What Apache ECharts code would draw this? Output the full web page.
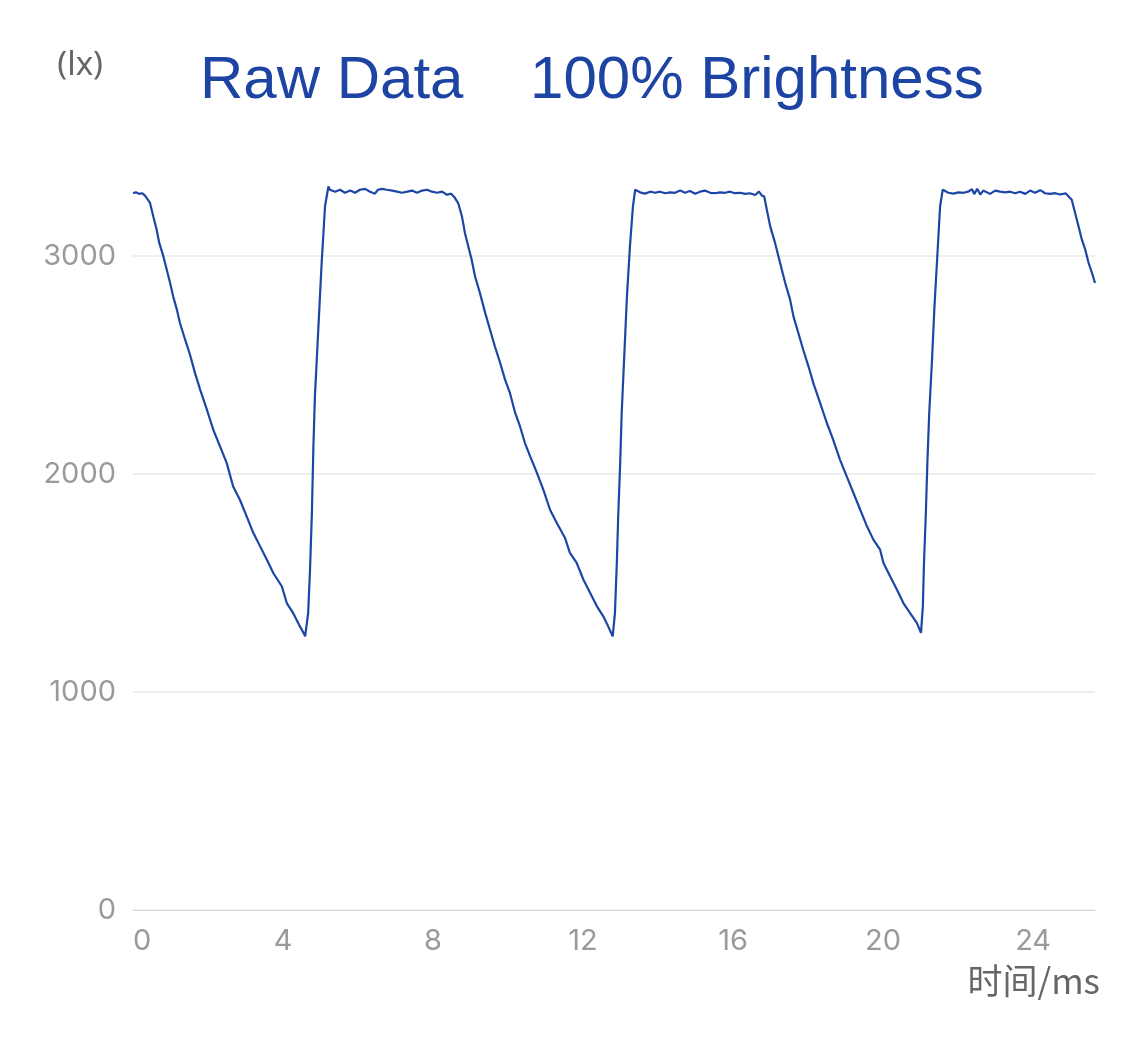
<!DOCTYPE html>
<html>
<head>
<meta charset="utf-8">
<script src="https://cdn.jsdelivr.net/npm/echarts@6/dist/echarts.min.js"></script>
<style>
html,body{margin:0;padding:0;background:#fff;}
#chart{width:1125px;height:1040px;}
</style>
</head>
<body>
<div id="chart"></div>
<script>
// Time (ms) of each sample
const timeMs = [
  0, 0.08, 0.16, 0.24, 0.32, 0.45, 0.54, 0.63, 0.70, 0.81, 0.90, 0.99, 1.07, 1.17, 1.25, 1.39, 1.52, 1.65, 1.79, 1.97,
  2.14, 2.32, 2.50, 2.67, 2.85, 3.03, 3.21, 3.39, 3.57, 3.74, 3.97, 4.10, 4.27, 4.45, 4.55, 4.59, 4.67, 4.72, 4.77, 4.81,
  4.85, 4.94, 5.03, 5.12, 5.21,
  5.25, 5.39, 5.52, 5.65, 5.79, 5.92, 6.05, 6.19, 6.32, 6.45, 6.53, 6.64, 6.77, 6.91, 7.04, 7.17, 7.31, 7.44, 7.57, 7.71,
  7.84, 7.97, 8.11, 8.24, 8.37, 8.48, 8.56,
  8.67, 8.77, 8.85, 8.94, 9.03, 9.12, 9.25, 9.39, 9.52, 9.65, 9.79, 9.92, 10.05, 10.19, 10.32, 10.45, 10.59, 10.77, 10.94,
  11.12, 11.30, 11.52, 11.65, 11.83, 12.01, 12.19, 12.37, 12.54, 12.67, 12.79, 12.85, 12.90, 12.94, 12.99, 13.03, 13.09,
  13.17, 13.25, 13.33, 13.39,
  13.52, 13.65, 13.79, 13.92, 14.05, 14.19, 14.32, 14.45, 14.59, 14.72, 14.85, 14.99, 15.12, 15.25, 15.39, 15.52, 15.65,
  15.79, 15.92, 16.05, 16.19, 16.32, 16.45, 16.59, 16.69, 16.77,
  16.83, 16.90, 16.99, 17.12, 17.21, 17.30, 17.39, 17.52, 17.61, 17.74, 17.87, 18.01, 18.14, 18.32, 18.50, 18.67, 18.85,
  19.03, 19.21, 19.39, 19.57, 19.74, 19.92, 20.01, 20.19, 20.37, 20.54, 20.72, 20.90, 21.01, 21.06, 21.09, 21.14, 21.18,
  21.23, 21.30, 21.37, 21.45, 21.52, 21.59,
  21.74, 21.87, 22.01, 22.14, 22.27, 22.37, 22.43, 22.51, 22.59, 22.67, 22.85, 22.99, 23.12, 23.25, 23.39, 23.52, 23.65,
  23.79, 23.92, 24.05, 24.19, 24.32, 24.45, 24.59, 24.72, 24.87,
  25.03, 25.12, 25.21, 25.30, 25.39, 25.48, 25.57, 25.65
];

// Illuminance (lx) of each sample
const luxValues = [
  3289, 3292, 3285, 3288, 3277, 3245, 3182, 3121, 3060, 2998, 2937, 2876, 2815, 2754, 2694, 2616, 2547, 2465, 2387, 2295,
  2203, 2127, 2050, 1943, 1882, 1806, 1729, 1668, 1607, 1546, 1484, 1408, 1362, 1301, 1270, 1255, 1362, 1561, 1822, 2127,
  2356, 2662, 2968, 3228, 3319,
  3304, 3295, 3304, 3290, 3300, 3290, 3304, 3308, 3295, 3286, 3304, 3308, 3304, 3300, 3295, 3290, 3295, 3300, 3290, 3300,
  3304, 3295, 3290, 3295, 3281, 3286, 3272,
  3243, 3182, 3106, 3044, 2983, 2906, 2830, 2739, 2662, 2585, 2509, 2433, 2372, 2280, 2218, 2142, 2081, 2005, 1928,
  1836, 1775, 1706, 1638, 1592, 1515, 1454, 1393, 1347, 1301, 1255, 1362, 1592, 1821, 2050, 2280, 2509,
  2815, 3044, 3228, 3304,
  3292, 3286, 3295, 3290, 3295, 3288, 3292, 3290, 3300, 3290, 3298, 3286, 3295, 3300, 3290, 3288, 3292,
  3290, 3295, 3288, 3290, 3285, 3288, 3280, 3295, 3277,
  3273, 3212, 3136, 3060, 2998, 2937, 2876, 2800, 2723, 2647, 2570, 2494, 2417, 2326, 2234, 2157, 2066,
  1989, 1913, 1836, 1760, 1699, 1653, 1592, 1530, 1469, 1408, 1362, 1317, 1271, 1393, 1592, 1821, 2050,
  2280, 2509, 2769, 3014, 3228, 3304,
  3290, 3286, 3292, 3290, 3295, 3306, 3284, 3308, 3282, 3300, 3285, 3300, 3295, 3292, 3295, 3288, 3295,
  3285, 3300, 3290, 3302, 3288, 3285, 3288, 3282, 3287,
  3258, 3197, 3136, 3075, 3029, 2968, 2922, 2876
];

// Axis tick steps (labels: 0,1000,2000,3000 and 0,4,...,24)
const yTickStep = 1000;
const xTickStep = 4;

const titleText = 'Raw Data    100% Brightness';
const xName = '时间/ms';
const yName = '(lx)';

const seriesData = timeMs.map((t, i) => [t, luxValues[i]]);

const chart = echarts.init(document.getElementById('chart'), null, { renderer: 'canvas' });
chart.setOption({
  animation: false,
  backgroundColor: '#ffffff',
  title: {
    text: titleText,
    left: 195,
    top: 46,
    textStyle: {
      fontFamily: 'Liberation Sans, Arial, sans-serif',
      fontSize: 60,
      fontWeight: 'normal',
      color: '#1d44a3'
    }
  },
  grid: {
    left: 133,
    right: 30,
    top: 147,
    bottom: 130,
    containLabel: false,
    outerBoundsMode: 'none'
  },
  xAxis: {
    type: 'value',
    min: 0,
    max: 'dataMax',
    interval: xTickStep,
    offset: 2,
    name: xName,
    nameLocation: 'end',
    nameGap: 5,
    nameTextStyle: {
      fontFamily: 'Noto Sans CJK SC, sans-serif',
      fontSize: 35,
      color: '#666666',
      align: 'right',
      verticalAlign: 'top',
      padding: [53, 0, 0, 0]
    },
    axisLine: { show: true, lineStyle: { color: '#d9d9d9', width: 1 } },
    axisTick: { show: false },
    splitLine: { show: false },
    axisLabel: {
      show: true,
      margin: 15,
      fontFamily: 'Inter, sans-serif',
      fontSize: 29,
      color: '#9a9a9a',
      showMaxLabel: false,
      alignMinLabel: 'left',
      formatter: (v) => String(v)
    }
  },
  yAxis: {
    type: 'value',
    min: 0,
    max: 3500,
    interval: yTickStep,
    name: yName,
    nameLocation: 'end',
    nameGap: 65,
    nameTextStyle: {
      fontFamily: 'Noto Sans, sans-serif',
      fontSize: 33,
      color: '#666666',
      align: 'right',
      verticalAlign: 'bottom',
      padding: [0, 30, 0, 0]
    },
    axisLine: { show: false },
    axisTick: { show: false },
    axisLabel: {
      margin: 17,
      fontFamily: 'Inter, sans-serif',
      fontSize: 29,
      color: '#9a9a9a',
      showMaxLabel: false,
      formatter: (v) => String(v)
    },
    splitLine: {
      show: true,
      showMaxLine: false,
      lineStyle: { color: '#eeeeee', width: 2 }
    }
  },
  series: [{
    type: 'line',
    data: seriesData,
    showSymbol: false,
    symbol: 'none',
    smooth: false,
    lineStyle: { color: '#1c46a6', width: 2.2 },
    itemStyle: { color: '#1c46a6' }
  }]
});
</script>
</body>
</html>
